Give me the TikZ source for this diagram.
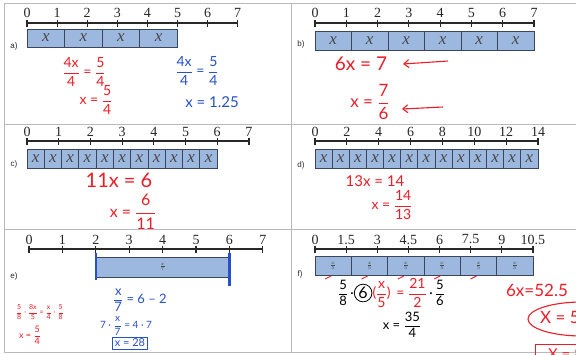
\documentclass[tikz,border=0pt]{standalone}
\usepackage{amsmath}
\usepackage{fontspec}
\usetikzlibrary{arrows.meta}
\setmainfont{Liberation Serif}
\setsansfont{Liberation Sans}
\newfontfamily\hand{Lato}
\definecolor{boxblue}{RGB}{156,184,222}
\definecolor{boxline}{RGB}{60,70,90}
\definecolor{hred}{RGB}{235,30,40}
\definecolor{hblue}{RGB}{40,80,200}
\definecolor{gridgray}{RGB}{185,185,185}
\definecolor{ink}{RGB}{40,40,40}
\newcommand\hfr[2]{\ensuremath{\dfrac{\text{#1}}{\text{#2}}}}
\newcommand\hsz[1]{\hand\fontsize{#1}{#1}\selectfont}
\begin{document}
\begin{tikzpicture}[x=1pt,y=-1pt,
 nl/.style={line width=1.2pt, draw=ink},
 nlbl/.style={font=\fontsize{14}{14}\selectfont, text=ink, inner sep=0pt},
 bx/.style={draw=boxline, fill=boxblue, line width=0.9pt, inner sep=0pt, outer sep=0pt, anchor=north west, font=\fontsize{17}{17}\selectfont\itshape, text=ink!85},
 plbl/.style={font=\sffamily\fontsize{8}{8}\selectfont, text=ink, inner sep=0pt},
 hr/.style={text=hred, inner sep=0pt},
 hb/.style={text=hblue, inner sep=0pt},
 hk/.style={text=black, inner sep=0pt},
 gridln/.style={draw=gridgray, line width=1pt},
 harrow/.style={draw=hred, line width=1.1pt, -{Straight Barb[length=5pt,width=8pt]}},
 tick/.style={draw=hred, line width=0.9pt}
]
\useasboundingbox (0,0) rectangle (576,354);
\clip (0,0) rectangle (576,354);
\fill[white] (0,0) rectangle (576,354);
% grid
\draw[gridln] (4,3) -- (576,3);
\draw[gridln] (4,3) -- (4,352);
\draw[gridln] (4,352) -- (576,352);
\draw[gridln] (291,3) -- (291,352);
\draw[gridln] (4,124) -- (576,124);
\draw[gridln] (4,229) -- (576,229);

% ---------- panel a
\draw[nl] (27,23) -- (238,23);
\foreach \i in {0,...,7} {
  \draw[nl] (27+\i*30.1,19.5) -- (27+\i*30.1,26.5);
  \node[nlbl] (na\i) at (27+\i*30.1,12.5) {\i};
}
\foreach \i in {0,...,3} \node[bx, minimum width=37.6pt, minimum height=18pt] (ba\i) at (27+\i*37.6,29) {x};
\node[plbl] (la) at (14,46) {a)};
\node[hr, font=\hsz{14}] (ea1) at (84,72) {\hfr{4x}{4} = \hfr{5}{4}};
\node[hr, font=\hsz{14}] (ea2) at (96,100) {x = \hfr{5}{4}};
\node[hb, font=\hsz{14}] (ea3) at (197,71) {\hfr{4x}{4} = \hfr{5}{4}};
\node[hb, font=\hsz{15}] (ea4) at (212,102) {x = 1.25};

% ---------- panel b
\draw[nl] (315,23) -- (534,23);
\foreach \i in {0,...,7} {
  \draw[nl] (315+\i*31.29,19.5) -- (315+\i*31.29,26.5);
  \node[nlbl] (nb\i) at (315+\i*31.29,12.5) {\i};
}
\foreach \i in {0,...,5} \node[bx, minimum width=36.5pt, minimum height=19pt] (bb\i) at (315+\i*36.5,31) {x};
\node[plbl] (lb) at (301,44) {b)};
\node[hr, font=\hsz{19}] (eb1) at (361,64) {6x = 7};
\node[hr, font=\hsz{17}] (eb2) at (370,102) {x = \hfr{7}{6}};
\coordinate (b1s) at (448,61); \coordinate (b1e) at (403,64);
\draw[harrow] (b1s) -- (b1e);
\coordinate (b2s) at (443,107); \coordinate (b2e) at (402,109);
\draw[harrow] (b2s) -- (b2e);

% ---------- panel c
\draw[nl] (27,141) -- (249,141);
\foreach \i in {0,...,7} {
  \draw[nl] (27+\i*31.7,137.5) -- (27+\i*31.7,144.5);
  \node[nlbl] (nc\i) at (27+\i*31.7,131.5) {\i};
}
\foreach \i in {0,...,10} \node[bx, minimum width=17.29pt, minimum height=19pt] (bc\i) at (27+\i*17.29,149) {x};
\node[plbl] (lc) at (14,164) {c)};
\node[hr, font=\hsz{20}] (ec1) at (119,180) {11x = 6};
\node[hr, font=\hsz{16}] (ec2) at (133,212) {x = \hfr{6}{11}};

% ---------- panel d
\draw[nl] (315,141) -- (538,141);
\foreach \i/\l in {0/0,1/2,2/4,3/6,4/8,5/10,6/12,7/14} {
  \draw[nl] (315+\i*31.86,137.5) -- (315+\i*31.86,144.5);
  \node[nlbl] (nd\i) at (315+\i*31.86,131.5) {\l};
}
\foreach \i in {0,...,12} \node[bx, minimum width=17.15pt, minimum height=19pt] (bd\i) at (315+\i*17.15,149) {x};
\node[plbl] (ld) at (301,165) {d)};
\node[hr, font=\hsz{15}] (ed1) at (375,181) {13x = 14};
\node[hr, font=\hsz{14}] (ed2) at (392,205) {x = \hfr{14}{13}};

% ---------- panel e
\draw[nl] (29,249) -- (263,249);
\foreach \i in {0,...,7} {
  \draw[nl] (29+\i*33.4,245.5) -- (29+\i*33.4,252.5);
  \node[nlbl] (ne\i) at (29+\i*33.4,239.5) {\i};
}
\node[bx, minimum width=133.6pt, minimum height=20pt] (be) at (95.8,257) {\fontsize{6}{6}\selectfont$\frac{x}{7}$};
\draw[hblue, line width=2.4pt] (be.north west) ++(0,-4) -- ++(0,27);
\draw[hblue, line width=2.4pt] (be.north east) ++(0,-4) -- ++(0,33);
\node[plbl] (le) at (14,276) {e)};
\node[hb, font=\hsz{13}] (ee1) at (140,300) {\hfr{x}{7} = 6 \textendash{} 2};
\node[hb, font=\hsz{10}] (ee2) at (126,326) {7 · \hfr{x}{7} = 4 · 7};
\node[hb, font=\hsz{11}, draw=hblue, line width=0.8pt, inner sep=2pt] (ee3) at (130,343) {x = 28};
\node[hr, font=\hsz{7}, anchor=east] (ee4) at (64,312) {\hfr{5}{8} · \hfr{8x}{5} = \hfr{x}{4} · \hfr{5}{8}};
\node[hr, font=\hsz{9}] (ee5) at (30,335) {x = \hfr{5}{4}};

% ---------- panel f
\draw[nl] (315,249) -- (533,249);
\foreach \i/\l in {0/0,1/1.5,2/3,3/4.5,4/6,5/7.5,6/9,7/10.5} {
  \draw[nl] (315+\i*31.14,245.5) -- (315+\i*31.14,252.5);
  \node[nlbl] (nf\i) at (315+\i*31.14,239.5) {\l};
}
\foreach \i in {0,...,5} \node[bx, minimum width=36.33pt, minimum height=19pt] (bf\i) at (315+\i*36.33,256) {\fontsize{6}{6}\selectfont$\frac{x}{5}$};
\foreach \i in {0,...,4} \draw[tick] (bf\i.south) ++(-8,4) -- ++(6,-3);
\node[plbl] (lf) at (300,274) {f)};
\node[hk, font=\hsz{13}, anchor=west] (ef1a) at (338,293) {\hfr{5}{8}\,·};
\node[hk, font=\hsz{16}, circle, draw=black, line width=0.8pt, inner sep=1pt, anchor=west] (ef1b) at (ef1a.east) {6};
\node[hr, font=\hsz{14}, anchor=west] (ef1c) at (ef1b.east) {(\hfr{x}{5})\, = \hfr{21}{2}};
\node[hk, font=\hsz{13}, anchor=west] (ef1d) at (ef1c.east) {\,·\,\hfr{5}{6}};
\node[hk, font=\hsz{13}] (ef2) at (402,325) {x = \hfr{35}{4}};
\node[hr, font=\hsz{17}] (ef3) at (537,290) {6x=52.5};
\draw[hred, line width=1.1pt] (582,319) ellipse (54pt and 17pt);
\node[hr, font=\hsz{17}, anchor=west] (ef4) at (540,317) {X = 5};
\node[hr, font=\hsz{15}, draw=hred, line width=1.1pt, anchor=north west, minimum width=60pt, minimum height=20pt] (ef5) at (535,344) {X = 8};
\end{tikzpicture}
\end{document}
